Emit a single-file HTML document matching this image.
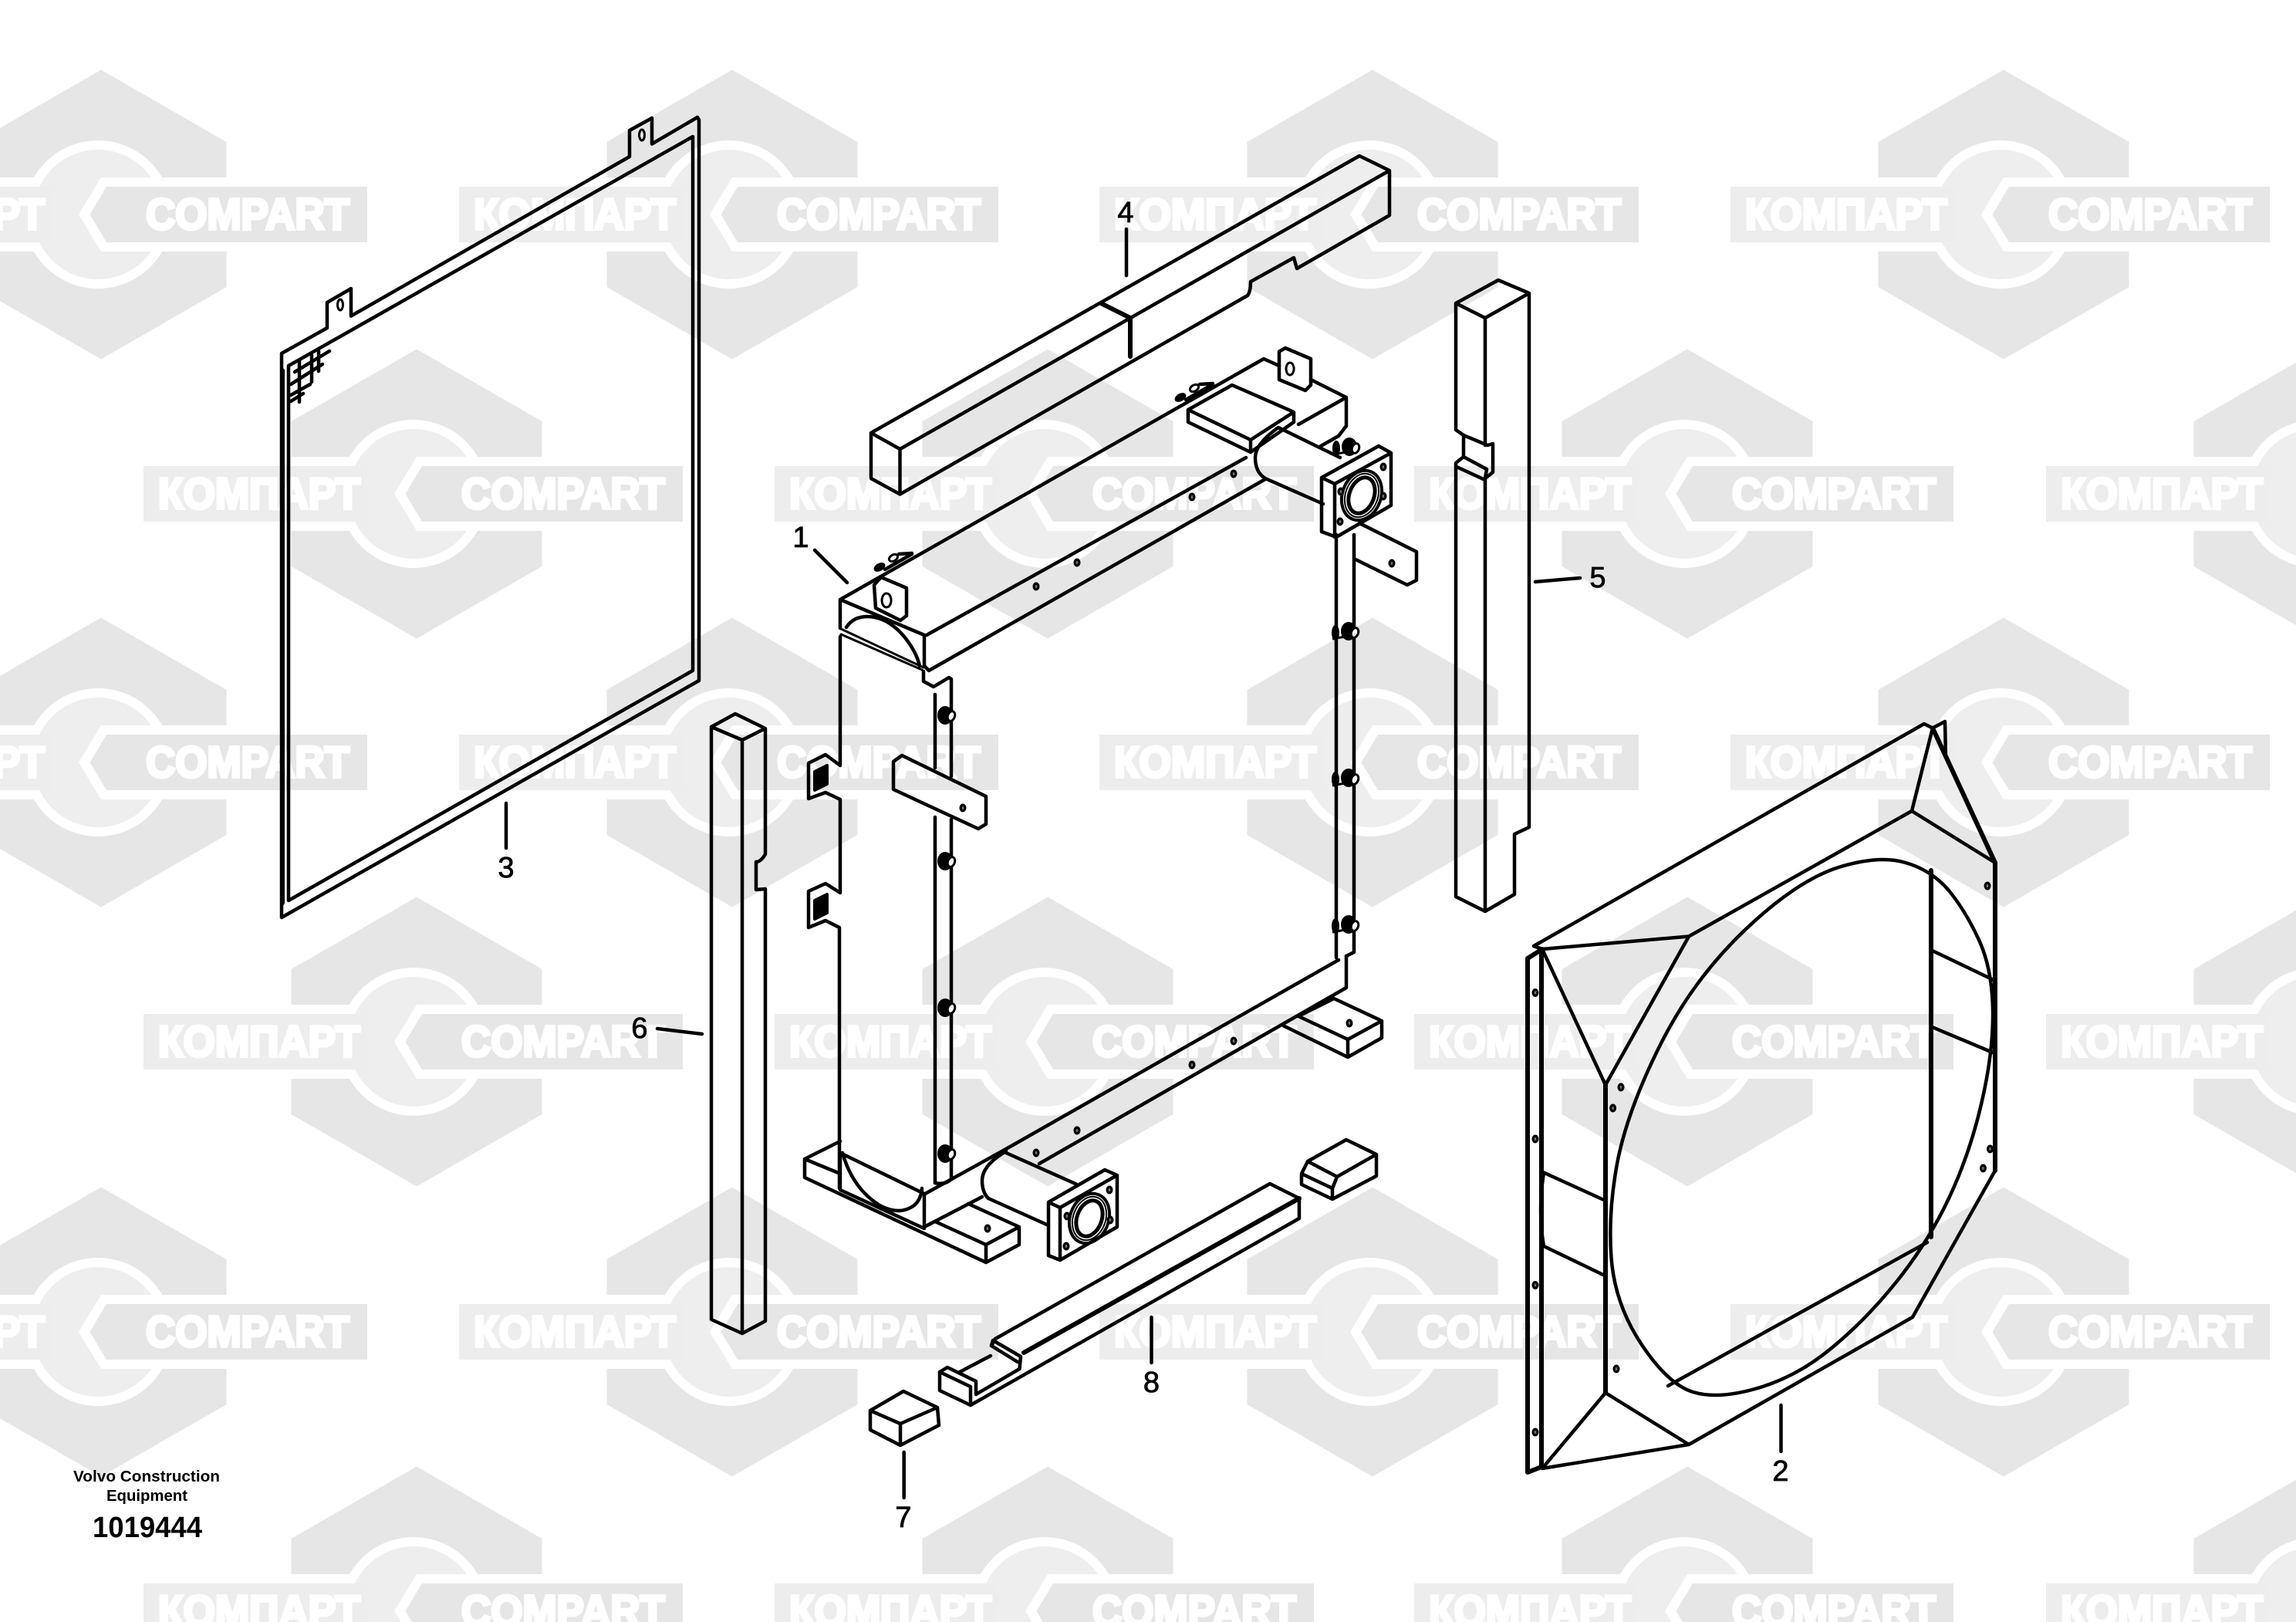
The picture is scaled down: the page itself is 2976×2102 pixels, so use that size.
<!DOCTYPE html>
<html><head><meta charset="utf-8"><style>
html,body{margin:0;padding:0;background:#fff;width:2976px;height:2102px;overflow:hidden}
svg{display:block}
.w{font:bold 57px "Liberation Sans",sans-serif;fill:#fff;stroke:#fff;stroke-width:4;stroke-linejoin:miter}
.l{fill:none;stroke:#000;stroke-width:4.5;stroke-linejoin:round;stroke-linecap:round}
.t{fill:none;stroke:#000;stroke-width:3;stroke-linejoin:round;stroke-linecap:round}
.b{fill:none;stroke:#000;stroke-width:6;stroke-linejoin:round;stroke-linecap:round}
.n{font:38px "Liberation Sans",sans-serif;fill:#000;stroke:#000;stroke-width:.8;text-anchor:middle}
</style></head><body>
<svg xmlns="http://www.w3.org/2000/svg" width="2976" height="2102" viewBox="0 0 2976 2102">
<defs>
<g id="tile">
<polygon points="0,-187.5 162.5,-94 162.5,94 0,187.5 -162.5,94 -162.5,-94" fill="#e6e6e6"/>
<rect x="-162.5" y="-48" width="90" height="96" fill="#fff"/>
<circle cx="-4" cy="0" r="96" fill="#fff"/>
<circle cx="-4" cy="0" r="84" fill="#eee"/>
<rect x="-354" y="-36" width="290" height="72" fill="#ededed"/>
<polygon points="0,-48 -29,0 0,48 162.5,48 162.5,-48" fill="#fff"/>
<polygon points="7,-36 -14.5,0 7,36 345,36 345,-36" fill="#e6e6e6"/>
</g>
<g id="bolt"><ellipse cx="-3" cy="0" rx="10" ry="12" fill="#000"/><ellipse cx="5" cy="1" rx="6" ry="8" transform="rotate(20 5 1)" fill="#000"/><ellipse cx="5" cy="1" rx="3" ry="5" transform="rotate(20 5 1)" fill="#fff"/></g>
<g id="vb"><ellipse cx="-14" cy="1" rx="5" ry="10" fill="#000"/><ellipse cx="3" cy="-1" rx="10" ry="12" fill="#000"/><ellipse cx="11" cy="1" rx="6" ry="8" transform="rotate(20 11 1)" fill="#000"/><ellipse cx="11" cy="1" rx="3" ry="5" transform="rotate(20 11 1)" fill="#fff"/><path d="M-18 9L4 5" stroke="#000" stroke-width="3"/></g>
<g id="h"><ellipse rx="4.5" ry="5.5" fill="#000"/><ellipse rx="1.3" ry="2" fill="#777"/></g>
</defs>

<!-- watermark -->
<use href="#tile" x="131" y="278"/><use href="#tile" x="949" y="278"/><use href="#tile" x="1779" y="278"/><use href="#tile" x="2597" y="278"/>
<use href="#tile" x="540" y="640"/><use href="#tile" x="1358" y="640"/><use href="#tile" x="2187" y="640"/><use href="#tile" x="3006" y="640"/>
<use href="#tile" x="131" y="988"/><use href="#tile" x="949" y="988"/><use href="#tile" x="1779" y="988"/><use href="#tile" x="2597" y="988"/>
<use href="#tile" x="540" y="1350"/><use href="#tile" x="1358" y="1350"/><use href="#tile" x="2187" y="1350"/><use href="#tile" x="3006" y="1350"/>
<use href="#tile" x="131" y="1726"/><use href="#tile" x="949" y="1726"/><use href="#tile" x="1779" y="1726"/><use href="#tile" x="2597" y="1726"/>
<use href="#tile" x="540" y="2088"/><use href="#tile" x="1358" y="2088"/><use href="#tile" x="2187" y="2088"/><use href="#tile" x="3006" y="2088"/>

<g class="w">
<text x="-204" y="297" textLength="262" lengthAdjust="spacingAndGlyphs">КОМПАРТ</text><text x="189" y="297" textLength="264" lengthAdjust="spacingAndGlyphs">COMPART</text>
<text x="614" y="297" textLength="262" lengthAdjust="spacingAndGlyphs">КОМПАРТ</text><text x="1007" y="297" textLength="264" lengthAdjust="spacingAndGlyphs">COMPART</text>
<text x="1444" y="297" textLength="262" lengthAdjust="spacingAndGlyphs">КОМПАРТ</text><text x="1837" y="297" textLength="264" lengthAdjust="spacingAndGlyphs">COMPART</text>
<text x="2262" y="297" textLength="262" lengthAdjust="spacingAndGlyphs">КОМПАРТ</text><text x="2655" y="297" textLength="264" lengthAdjust="spacingAndGlyphs">COMPART</text>

<text x="205" y="659" textLength="262" lengthAdjust="spacingAndGlyphs">КОМПАРТ</text><text x="598" y="659" textLength="264" lengthAdjust="spacingAndGlyphs">COMPART</text>
<text x="1023" y="659" textLength="262" lengthAdjust="spacingAndGlyphs">КОМПАРТ</text><text x="1416" y="659" textLength="264" lengthAdjust="spacingAndGlyphs">COMPART</text>
<text x="1852" y="659" textLength="262" lengthAdjust="spacingAndGlyphs">КОМПАРТ</text><text x="2245" y="659" textLength="264" lengthAdjust="spacingAndGlyphs">COMPART</text>
<text x="2671" y="659" textLength="262" lengthAdjust="spacingAndGlyphs">КОМПАРТ</text>

<text x="-204" y="1007" textLength="262" lengthAdjust="spacingAndGlyphs">КОМПАРТ</text><text x="189" y="1007" textLength="264" lengthAdjust="spacingAndGlyphs">COMPART</text>
<text x="614" y="1007" textLength="262" lengthAdjust="spacingAndGlyphs">КОМПАРТ</text><text x="1007" y="1007" textLength="264" lengthAdjust="spacingAndGlyphs">COMPART</text>
<text x="1444" y="1007" textLength="262" lengthAdjust="spacingAndGlyphs">КОМПАРТ</text><text x="1837" y="1007" textLength="264" lengthAdjust="spacingAndGlyphs">COMPART</text>
<text x="2262" y="1007" textLength="262" lengthAdjust="spacingAndGlyphs">КОМПАРТ</text><text x="2655" y="1007" textLength="264" lengthAdjust="spacingAndGlyphs">COMPART</text>

<text x="205" y="1369" textLength="262" lengthAdjust="spacingAndGlyphs">КОМПАРТ</text><text x="598" y="1369" textLength="264" lengthAdjust="spacingAndGlyphs">COMPART</text>
<text x="1023" y="1369" textLength="262" lengthAdjust="spacingAndGlyphs">КОМПАРТ</text><text x="1416" y="1369" textLength="264" lengthAdjust="spacingAndGlyphs">COMPART</text>
<text x="1852" y="1369" textLength="262" lengthAdjust="spacingAndGlyphs">КОМПАРТ</text><text x="2245" y="1369" textLength="264" lengthAdjust="spacingAndGlyphs">COMPART</text>
<text x="2671" y="1369" textLength="262" lengthAdjust="spacingAndGlyphs">КОМПАРТ</text>

<text x="-204" y="1745" textLength="262" lengthAdjust="spacingAndGlyphs">КОМПАРТ</text><text x="189" y="1745" textLength="264" lengthAdjust="spacingAndGlyphs">COMPART</text>
<text x="614" y="1745" textLength="262" lengthAdjust="spacingAndGlyphs">КОМПАРТ</text><text x="1007" y="1745" textLength="264" lengthAdjust="spacingAndGlyphs">COMPART</text>
<text x="1444" y="1745" textLength="262" lengthAdjust="spacingAndGlyphs">КОМПАРТ</text><text x="1837" y="1745" textLength="264" lengthAdjust="spacingAndGlyphs">COMPART</text>
<text x="2262" y="1745" textLength="262" lengthAdjust="spacingAndGlyphs">КОМПАРТ</text><text x="2655" y="1745" textLength="264" lengthAdjust="spacingAndGlyphs">COMPART</text>

<text x="205" y="2107" textLength="262" lengthAdjust="spacingAndGlyphs">КОМПАРТ</text><text x="598" y="2107" textLength="264" lengthAdjust="spacingAndGlyphs">COMPART</text>
<text x="1023" y="2107" textLength="262" lengthAdjust="spacingAndGlyphs">КОМПАРТ</text><text x="1416" y="2107" textLength="264" lengthAdjust="spacingAndGlyphs">COMPART</text>
<text x="1852" y="2107" textLength="262" lengthAdjust="spacingAndGlyphs">КОМПАРТ</text><text x="2245" y="2107" textLength="264" lengthAdjust="spacingAndGlyphs">COMPART</text>
<text x="2671" y="2107" textLength="262" lengthAdjust="spacingAndGlyphs">КОМПАРТ</text>
</g>

<!-- part 3 mesh frame -->
<path class="l" d="M365 1189V458L424 425V392L455 374V409.5L816 203V169L845 153V186.5L904 152L906 155V882L365 1189Z"/>
<path class="b" d="M366 480V1170"/>
<path class="l" d="M374 1167V474L898 177V869Z"/>
<ellipse cx="441" cy="395" rx="3.5" ry="7" class="t"/><ellipse cx="832" cy="175" rx="3.5" ry="7" class="t"/>
<path class="l" d="M388 467V521M404 460V495M413 455V481M377 498L418 472M377 512L402 498M377 520L393 510M382 482L427 455"/>

<!-- part 4 -->
<path class="l" d="M1129 561L1762 202L1801 221V279L1681 348L1677 334L1621 365Q1621 378 1617 383L1166.5 640.5L1129 620ZM1129 561L1166.5 582V640.5M1166.5 582L1801 221"/>
<path class="b" d="M1428 393.5L1465 412V462"/>

<!-- part 5 -->
<path class="l" d="M1887 393L1942 363L1982 380L1925 412ZM1887 393V557L1897 564L1928 577L1935 575V612L1925 620V1181L1887 1162V600L1897 592L1927 608L1925 620M1897 564V592M1925 412V577M1888 605L1925 622M1925 1181L1963 1159V1081L1982 1072V380"/>

<!-- part 6 -->
<path class="l" d="M922 942L953 925L992 944L962 959ZM922 942V1710L962 1728L992 1712V1152L980 1153V1117Q986 1117 992 1107V944M962 959V1728"/>

<!-- part 1 radiator, top tank -->
<path class="l" d="M1089 777L1638 465L1658 474M1089 777V814M1089 777L1198 823V863L1204 869L1640 621M1201 823L1615 593"/>
<path class="l" d="M1683 550L1745 515V552L1735 565L1712 578M1699 492L1745 515"/>
<path class="l" d="M1658 455.5L1666 451L1699 465V499L1692 506L1658 492Z"/>
<path class="t" d="M1672 470a5 8 0 1 0 .1 0Z"/>
<path class="l" d="M1133 758L1142 748L1175 762V798L1167 804L1135 788Z"/>
<path class="t" d="M1149 769a6 9 0 1 0 .1 0Z"/>
<ellipse cx="1140" cy="735" rx="8" ry="5" transform="rotate(-30 1140 735)" fill="#000"/>
<ellipse cx="1158" cy="723" rx="6" ry="4" transform="rotate(-30 1158 723)" fill="none" stroke="#000" stroke-width="3"/>
<path class="l" d="M1147 738L1182 718M1165 718L1182 717"/>
<ellipse cx="1530" cy="515" rx="8" ry="5" transform="rotate(-30 1530 515)" fill="#000"/>
<ellipse cx="1548" cy="503" rx="6" ry="4" transform="rotate(-30 1548 503)" fill="none" stroke="#000" stroke-width="3"/>
<path class="l" d="M1537 518L1572 498M1555 498L1572 497"/>
<path class="l" d="M1540 531L1597 499L1677 534V547L1621 586L1540 547ZM1540 531L1621 570L1677 534M1621 570V586"/>
<path class="l" d="M1657 554L1737 593M1657 554Q1627 575 1627 593Q1627 612 1640 620L1715 653"/>
<use href="#h" x="1343" y="760"/><use href="#h" x="1396" y="729"/><use href="#h" x="1545" y="644"/><use href="#h" x="1599" y="614"/>
<path class="l" d="M1097 813Q1106 799 1124 799Q1150 799 1172 825Q1188 845 1192 863"/>
<path class="t" d="M1090 815L1197 865M1090 822L1195 868"/>
<path class="l" d="M1089 825V992L1070 978L1048 989V1035L1070 1027L1089 1036V1157L1070 1145L1048 1155V1202L1070 1193L1088 1202V1540"/>
<path d="M1056 1000L1072 992V1016L1056 1024Z" fill="#000" stroke="#000" stroke-width="4" stroke-linejoin="round"/>
<path d="M1056 1167L1072 1159V1183L1056 1191Z" fill="#000" stroke="#000" stroke-width="4" stroke-linejoin="round"/>
<path class="l" d="M1197 870V883L1210 890L1230 878L1233 880V1006M1233 1062V1528M1212 900V995M1212 1059V1533"/>
<path class="l" d="M1158 987L1169 979L1278 1032V1068L1268 1074L1158 1023Z"/>
<use href="#h" x="1248" y="1047"/>
<use href="#bolt" x="1228" y="927"/><use href="#bolt" x="1228" y="1116"/><use href="#bolt" x="1228" y="1306"/><use href="#bolt" x="1228" y="1495"/>

<!-- right column -->
<path class="l" d="M1732 693V1241M1755 693V1234L1745 1239"/>
<path class="l" d="M1762 678L1836 715V752L1824 758L1757 725"/>
<use href="#h" x="1804" y="730"/>
<use href="#vb" x="1745" y="819"/><use href="#vb" x="1745" y="1009"/><use href="#vb" x="1745" y="1199"/>
<use href="#vb" x="1746" y="580"/>

<!-- top flange -->
<path class="l" d="M1713 619L1787 578L1803 587V655L1732 696L1713 689ZM1713 619L1730 627V696M1730 627L1803 587"/>
<ellipse cx="1765" cy="642" rx="25" ry="33" transform="rotate(20 1765 642)" fill="none" stroke="#000" stroke-width="4"/>
<ellipse cx="1765" cy="642" rx="21" ry="29" transform="rotate(20 1765 642)" fill="none" stroke="#000" stroke-width="2"/>
<ellipse cx="1765" cy="642" rx="16" ry="24" transform="rotate(20 1765 642)" fill="#fff" stroke="#000" stroke-width="5"/>
<use href="#h" x="1738" y="637"/><use href="#h" x="1793" y="605"/><use href="#h" x="1793" y="643"/><use href="#h" x="1737" y="676"/>

<!-- bottom tank -->
<path class="l" d="M1745 1239V1280L1347 1508M1735 1244L1304 1489L1201 1546L1198 1548V1590L1273 1551"/>
<path class="l" d="M1663 1329L1747 1370L1791 1345V1323L1729 1294M1683 1317L1747 1347L1791 1323M1747 1347V1370M1683 1317L1729 1294"/>
<use href="#h" x="1749" y="1326"/>
<use href="#h" x="1343" y="1494"/><use href="#h" x="1396" y="1465"/><use href="#h" x="1545" y="1380"/><use href="#h" x="1599" y="1349"/>
<path class="l" d="M1043 1502L1089 1479M1043 1502V1526L1278 1636L1321 1613V1590L1255 1560M1043 1502L1089 1521M1212 1583L1278 1613L1321 1590M1278 1613V1636"/>
<use href="#h" x="1280" y="1592"/>
<path class="l" d="M1089 1494L1198 1547M1089 1494V1542L1198 1592"/>
<path class="l" d="M1092 1494Q1105 1540 1140 1562Q1166 1576 1185 1562Q1194 1554 1195 1540"/>
<path class="l" d="M1212 1533Q1225 1536 1233 1528"/>
<path class="l" d="M1304 1494L1396 1535M1304 1492Q1273 1510 1273 1530Q1273 1545 1281 1553L1359 1588"/>
<path class="l" d="M1359 1558L1432 1516L1448 1523V1590L1374 1633L1359 1627ZM1359 1558L1374 1565V1633M1374 1565L1448 1523"/>
<ellipse cx="1412" cy="1579" rx="25" ry="33" transform="rotate(20 1412 1579)" fill="none" stroke="#000" stroke-width="4"/>
<ellipse cx="1412" cy="1579" rx="21" ry="29" transform="rotate(20 1412 1579)" fill="none" stroke="#000" stroke-width="2"/>
<ellipse cx="1412" cy="1579" rx="16" ry="24" transform="rotate(20 1412 1579)" fill="#fff" stroke="#000" stroke-width="5"/>
<use href="#h" x="1383" y="1576"/><use href="#h" x="1438" y="1542"/><use href="#h" x="1439" y="1581"/><use href="#h" x="1382" y="1615"/>

<!-- part 8 -->
<path class="l" d="M1646 1534L1684 1553V1579L1258 1821L1218 1802V1778L1228 1772L1265 1790V1807L1321.5 1774L1323 1758L1287 1737L1285 1744L1290 1735L1646 1534Z"/>
<path class="b" d="M1327 1753L1684 1553"/>
<path class="l" d="M1285 1744L1319 1765M1244 1778L1284 1757M1218 1778L1258 1797V1821"/>

<!-- blocks -->
<path class="l" d="M1695 1505L1745 1477L1784 1496V1524L1727 1554L1687 1535V1521ZM1695 1505L1733 1525L1784 1496M1733 1525L1727 1540V1554M1687 1521L1727 1540"/>
<path class="l" d="M1128 1828L1171 1803L1215 1824L1217 1847L1167 1873L1128 1853ZM1128 1828L1167 1845L1215 1824M1167 1845V1873"/>

<!-- part 2 shroud -->
<path class="b" d="M1980 1242V1908M1998 1231V1901M1980 1242L1999 1230M1980 1908L1998 1901"/>
<path class="l" d="M1999 1230L1988 1226L2494 938L2505 943.5L2521 935L2522 979"/>
<path class="l" d="M1999 1230L2189 1213.5L2478 1051L2505 943.5M1999 1230L2081 1406L2189 1213.5M2478 1051L2586 1118"/>
<path class="b" d="M2505 943.5L2586 1118V1517M2081 1406V1805M2503 1128V1603"/>
<path class="l" d="M2586 1517L2479 1707L2189 1872L1999 1903L2081 1805L2189 1872"/>
<path class="l" d="M2526 1154Q2503.6 1127.7 2470 1118Q2436.6 1107.6 2383 1124Q2329.5 1141 2262.5 1204.5Q2195.5 1268 2153 1352Q2110.7 1436 2097 1503Q2084 1570 2088.5 1630Q2093 1690 2127.5 1742Q2162 1794 2194.5 1804Q2227 1814 2278 1799Q2329.5 1784 2374 1747Q2419 1710 2459 1660Q2499 1610 2526 1553Q2553 1496 2568.5 1429Q2584 1362 2583 1308.5Q2582 1255 2565 1218Q2548 1181 2526 1154Z"/>
<path class="l" d="M2001 1519.6L2081 1556M2001 1615L2081 1653.5M2001 1519.6Q1993 1570 2001 1615M2503.6 1231.5L2584 1270M2503.6 1330.7L2583 1364M2162 1796L2498 1610"/>
<use href="#h" x="1990" y="1286.5"/><use href="#h" x="1990" y="1476"/><use href="#h" x="1990" y="1665.5"/><use href="#h" x="1990" y="1856"/>
<use href="#h" x="2101" y="1409"/><use href="#h" x="2090.6" y="1436"/><use href="#h" x="2095" y="1774"/><use href="#h" x="2576" y="1148"/><use href="#h" x="2570.5" y="1514"/><use href="#h" x="2579.5" y="1489"/>

<!-- leaders and labels -->
<path class="l" d="M656 1041V1099M852 1333L910 1340M1056 713L1098 755M1460 297V357M1990 754L2048 749M2308.5 1821V1881M1492.5 1707V1766M1171.7 1882V1941"/>
<text class="n" x="656" y="1137">3</text>
<text class="n" x="829" y="1345">6</text>
<text class="n" x="1038" y="709">1</text>
<text class="n" x="1459" y="288">4</text>
<text class="n" x="2071" y="761">5</text>
<text class="n" x="2308" y="1919">2</text>
<text class="n" x="1492.5" y="1804">8</text>
<text class="n" x="1171" y="1979">7</text>

<text x="95" y="1920" textLength="190" lengthAdjust="spacingAndGlyphs" style="font:bold 20px 'Liberation Sans',sans-serif">Volvo Construction</text>
<text x="138" y="1945" textLength="105" lengthAdjust="spacingAndGlyphs" style="font:bold 20px 'Liberation Sans',sans-serif">Equipment</text>
<text x="120" y="1992" textLength="142" lengthAdjust="spacingAndGlyphs" style="font:bold 38px 'Liberation Sans',sans-serif">1019444</text>
</svg>
</body></html>
